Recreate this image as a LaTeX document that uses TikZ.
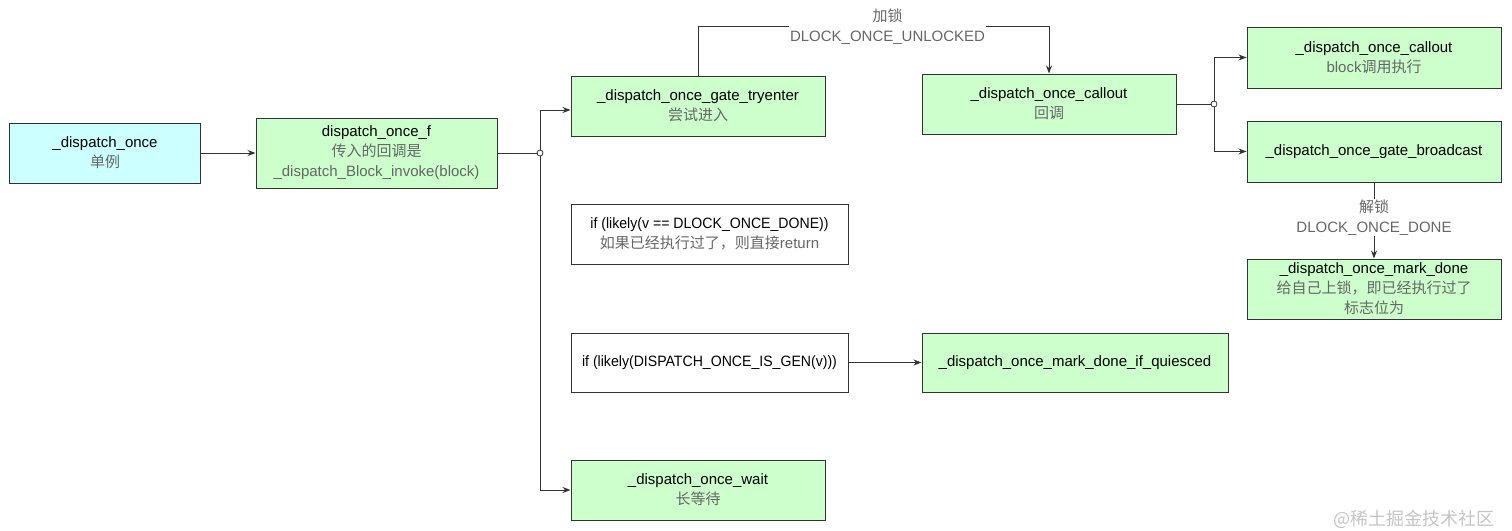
\documentclass[tikz,border=0pt]{standalone}
\usepackage{fontspec}
\setmainfont{Liberation Sans}
\newfontfamily\cjk{Noto Sans CJK SC}
\newfontfamily\narrowfont[FakeStretch=0.94]{Liberation Sans}
\usetikzlibrary{arrows.meta,calc}
\definecolor{boxgreen}{HTML}{CCFFCC}
\definecolor{boxcyan}{HTML}{CCFFFF}
\definecolor{edgecol}{HTML}{333333}
\definecolor{subtxt}{HTML}{666666}
\definecolor{wmark}{HTML}{C4C4C4}
\tikzset{
  box/.style={draw=edgecol, line width=1pt, rectangle, inner sep=0pt, align=center,
    font=\fontsize{15}{20}\selectfont, text=black},
  gbox/.style={box, fill=boxgreen},
  cbox/.style={box, fill=boxcyan},
  wbox/.style={box, fill=white},
  conn/.style={draw=edgecol, line width=1pt},
  arr/.style={conn, -{Stealth[length=8pt,width=6pt]}},
  lbl/.style={fill=white, inner sep=1pt, align=center, text=subtxt,
    font=\fontsize{15}{20}\selectfont},
  junc/.style={circle, draw=edgecol, fill=white, line width=0.8pt, minimum size=6pt, inner sep=0pt},
}
\newcommand{\sub}[1]{{\color{subtxt}#1}}
\begin{document}
\begin{tikzpicture}[x=1pt,y=-1pt]
\useasboundingbox (0,0) rectangle (1512,530);

\node[cbox, minimum width=191pt, minimum height=60pt] (once) at (105,153)
  {\_dispatch\_once\\\sub{\cjk 单例}};
\node[gbox, minimum width=241pt, minimum height=70pt] (oncef) at (376.5,153)
  {dispatch\_once\_f\\\sub{\cjk 传入的回调是}\\\sub{\_dispatch\_Block\_invoke(block)}};
\node[gbox, minimum width=254pt, minimum height=60pt] (tryenter) at (698,106)
  {\_dispatch\_once\_gate\_tryenter\\\sub{\cjk 尝试进入}};
\node[wbox, minimum width=277pt, minimum height=60pt] (if1) at (709.5,234)
  {{\narrowfont if (likely(v == DLOCK\_ONCE\_DONE))}\\\sub{{\cjk 如果已经执行过了，则直接}return}};
\node[wbox, minimum width=277pt, minimum height=59pt] (if2) at (709.5,362.5)
  {{\narrowfont if (likely(DISPATCH\_ONCE\_IS\_GEN(v)))}};
\node[gbox, minimum width=254pt, minimum height=60pt] (wait) at (698,490)
  {\_dispatch\_once\_wait\\\sub{\cjk 长等待}};
\node[gbox, minimum width=306pt, minimum height=59pt] (quiesced) at (1075,362.5)
  {\_dispatch\_once\_mark\_done\_if\_quiesced};
\node[gbox, minimum width=254pt, minimum height=60pt] (callout) at (1049,104)
  {\_dispatch\_once\_callout\\\sub{\cjk 回调}};
\node[gbox, minimum width=254pt, minimum height=61pt] (callout2) at (1374,57.5)
  {\_dispatch\_once\_callout\\\sub{block{\cjk 调用执行}}};
\node[gbox, minimum width=254pt, minimum height=61pt] (broadcast) at (1374,151.5)
  {\_dispatch\_once\_gate\_broadcast};
\node[gbox, minimum width=254pt, minimum height=60pt] (markdone) at (1374,289)
  {\_dispatch\_once\_mark\_done\\\sub{\cjk 给自己上锁，即已经执行过了}\\\sub{\cjk 标志位为}};

% connectors
\draw[arr] (once.east) -- (oncef.west);

\coordinate (j1) at (540,153);
\draw[conn] (oncef.east) -- (j1);
\draw[arr] (j1) |- ([yshift=-4pt]tryenter.west);
\draw[arr] (j1) |- (wait.west);
\node[junc] (j1c) at (j1) {};

\draw[arr] (tryenter.north) -- ++(0,-49)
  -| node[lbl, pos=0.27] (lock) {{\cjk 加锁}\\DLOCK\_ONCE\_UNLOCKED} (callout.north);

\coordinate (j2) at (1214,104);
\draw[conn] (callout.east) -- (j2);
\draw[arr] (j2) |- (callout2.west);
\draw[arr] (j2) |- (broadcast.west);
\node[junc] (j2c) at (j2) {};

\draw[arr] (broadcast.south) -- node[lbl, pos=0.46] (unlock) {{\cjk 解锁}\\DLOCK\_ONCE\_DONE} (markdone.north);

\draw[arr] (if2.east) -- (quiesced.west);

\node[text=wmark, font=\fontsize{18}{20}\selectfont, anchor=east] (wm) at (1498,519)
  {{\cjk @稀土掘金技术社区}};
\end{tikzpicture}
\end{document}
